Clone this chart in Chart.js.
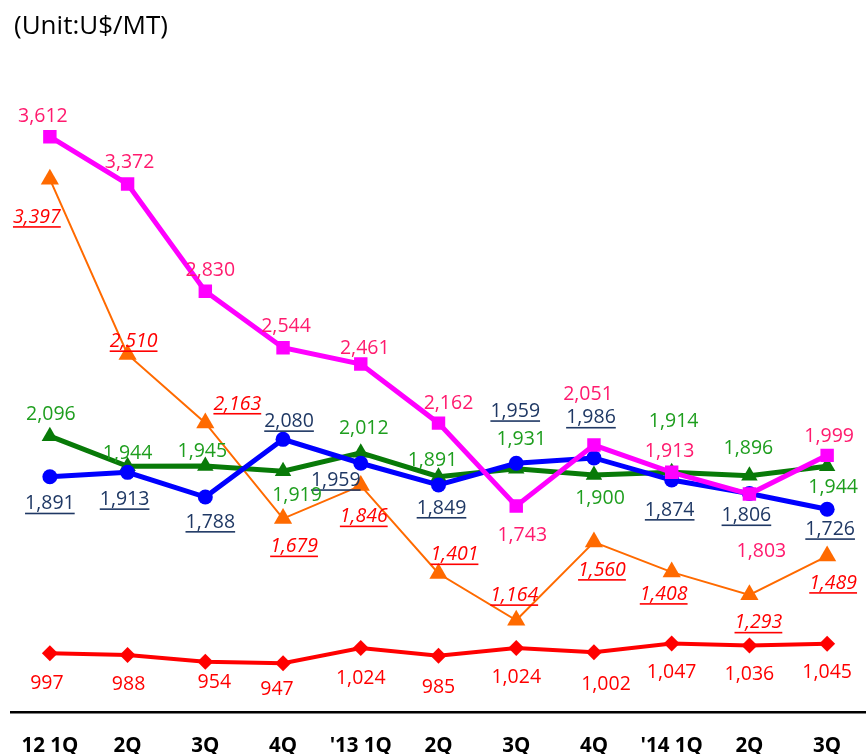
<!DOCTYPE html>
<html>
<head>
<meta charset="utf-8">
<script src="https://cdn.jsdelivr.net/npm/chart.js@4/dist/chart.umd.min.js"></script>
<style>
  html, body { margin: 0; padding: 0; background: #fff; overflow: hidden; }
  canvas { display: block; }
</style>
</head>
<body>
<canvas id="myChart" width="866" height="754"></canvas>
<script>
// quarters on the x axis
const quarters = ['12 1Q', '2Q', '3Q', '4Q', "'13 1Q", '2Q', '3Q', '4Q', "'14 1Q", '2Q', '3Q'];

// price series (U$/MT)
const pinkValues   = [3612, 3372, 2830, 2544, 2461, 2162, 1743, 2051, 1913, 1803, 1999];
const blueValues   = [1891, 1913, 1788, 2080, 1959, 1849, 1959, 1986, 1874, 1806, 1726];
const greenValues  = [2096, 1944, 1945, 1919, 2012, 1891, 1931, 1900, 1914, 1896, 1944];
const orangeValues = [3397, 2510, 2163, 1679, 1846, 1401, 1164, 1560, 1408, 1293, 1489];
const redValues    = [997, 988, 954, 947, 1024, 985, 1024, 1002, 1047, 1036, 1045];

const unitText = '(Unit:U$/MT)';

// where each value label sits relative to its point (px)
const pinkLabelPos   = [[-7,-20],[2,-22],[5,-21],[3,-21],[4,-16],[10,-20],[6,30],[-6,-51],[-2,-21],[12,57],[2,-19]];
const blueLabelPos   = [[0,27],[-3,27],[5,25],[6,-18],[-25,17],[3,23],[-1,-52],[-3,-40],[-2,30],[-3,22],[3,20]];
const greenLabelPos  = [[1,-22],[0,-13],[-3,-15],[14,24],[3,-24],[-6,-16],[5,-29],[6,24],[2,-51],[-1,-27],[6,21]];
const orangeLabelPos = [[-13,38],[6,-13],[32,-19],[11,28],[3,31],[16,-19],[-2,-25],[8,28],[-8,22],[9,28],[6,27]];
const redLabelPos    = [[-3,30],[1,29],[9,21],[-6,26],[0,30],[0,32],[0,29],[12,32],[0,29],[0,29],[0,29]];

const valueLabels = {
  id: 'valueLabels',
  afterDatasetsDraw(chart) {
    const ctx = chart.ctx;
    chart.data.datasets.forEach((ds, i) => {
      const meta = chart.getDatasetMeta(i);
      ctx.save();
      ctx.font = (ds.labelItalic ? 'italic ' : '') + '19.5px "Open Sans"';
      ctx.fillStyle = ds.labelColor;
      ctx.textAlign = 'center';
      ctx.textBaseline = 'middle';
      meta.data.forEach((pt, j) => {
        const off = ds.labelPos[j];
        const x = pt.x + off[0];
        const y = pt.y + off[1];
        const txt = ds.data[j].toLocaleString('en-US');
        ctx.fillText(txt, x, y);
        if (ds.labelUnderline) {
          const w = ctx.measureText(txt).width;
          ctx.fillRect(x - w / 2, y + 9, w, 1.6);
        }
      });
      ctx.restore();
    });
  },
  afterDraw(chart) {
    const ctx = chart.ctx;
    ctx.save();
    ctx.font = '26px "Open Sans"';
    ctx.fillStyle = '#000';
    ctx.textAlign = 'left';
    ctx.textBaseline = 'middle';
    ctx.fillText(unitText, 14, 27);
    ctx.restore();
  }
};

const ctx = document.getElementById('myChart').getContext('2d');

let myChart = new Chart(ctx, {
  type: 'line',
  data: {
    labels: quarters,
    datasets: [
      {
        data: pinkValues, borderColor: '#FF00FF', backgroundColor: '#FF00FF', borderWidth: 5,
        pointStyle: 'rect', pointRadius: 9.5, pointBorderWidth: 0,
        labelColor: '#FF1A6E', labelPos: pinkLabelPos
      },
      {
        data: blueValues, borderColor: '#0000FF', backgroundColor: '#0000FF', borderWidth: 5,
        pointStyle: 'circle', pointRadius: 7.5, pointBorderWidth: 0,
        labelColor: '#1F3864', labelPos: blueLabelPos, labelUnderline: true
      },
      {
        data: greenValues, borderColor: '#087A08', backgroundColor: '#087A08', borderWidth: 5,
        pointStyle: 'triangle', pointRadius: 9.5, pointBorderWidth: 0,
        labelColor: '#1E9E1E', labelPos: greenLabelPos
      },
      {
        data: orangeValues, borderColor: '#FF6A00', backgroundColor: '#FF6A00', borderWidth: 2,
        pointStyle: 'triangle', pointRadius: 10.5, pointBorderWidth: 0,
        labelColor: '#FF0000', labelPos: orangeLabelPos, labelUnderline: true, labelItalic: true
      },
      {
        data: redValues, borderColor: '#FF0000', backgroundColor: '#FF0000', borderWidth: 4,
        pointStyle: 'rectRot', pointRadius: 8, pointBorderWidth: 0,
        labelColor: '#FF0000', labelPos: redLabelPos
      }
    ]
  },
  options: {
    responsive: false,
    animation: false,
    layout: { autoPadding: false, padding: { left: 11, right: -2, top: 60, bottom: 0 } },
    plugins: {
      legend: { display: false },
      tooltip: { enabled: false },
      title: { display: false }
    },
    scales: {
      x: {
        offset: true,
        grid: { display: false, drawTicks: false },
        border: { display: true, color: '#000', width: 2.5 },
        ticks: {
          color: '#000',
          autoSkip: false,
          maxRotation: 0,
          padding: 24,
          font: { family: '"Open Sans"', size: 20.5, weight: 'bold', lineHeight: 1 }
        },
        afterFit(scale) {
          scale.height = 42;
          scale.paddingLeft = 0;
          scale.paddingRight = 0;
        }
      },
      y: {
        display: false,
        min: 700,
        max: 4000
      }
    }
  },
  plugins: [valueLabels]
});
</script>
</body>
</html>
